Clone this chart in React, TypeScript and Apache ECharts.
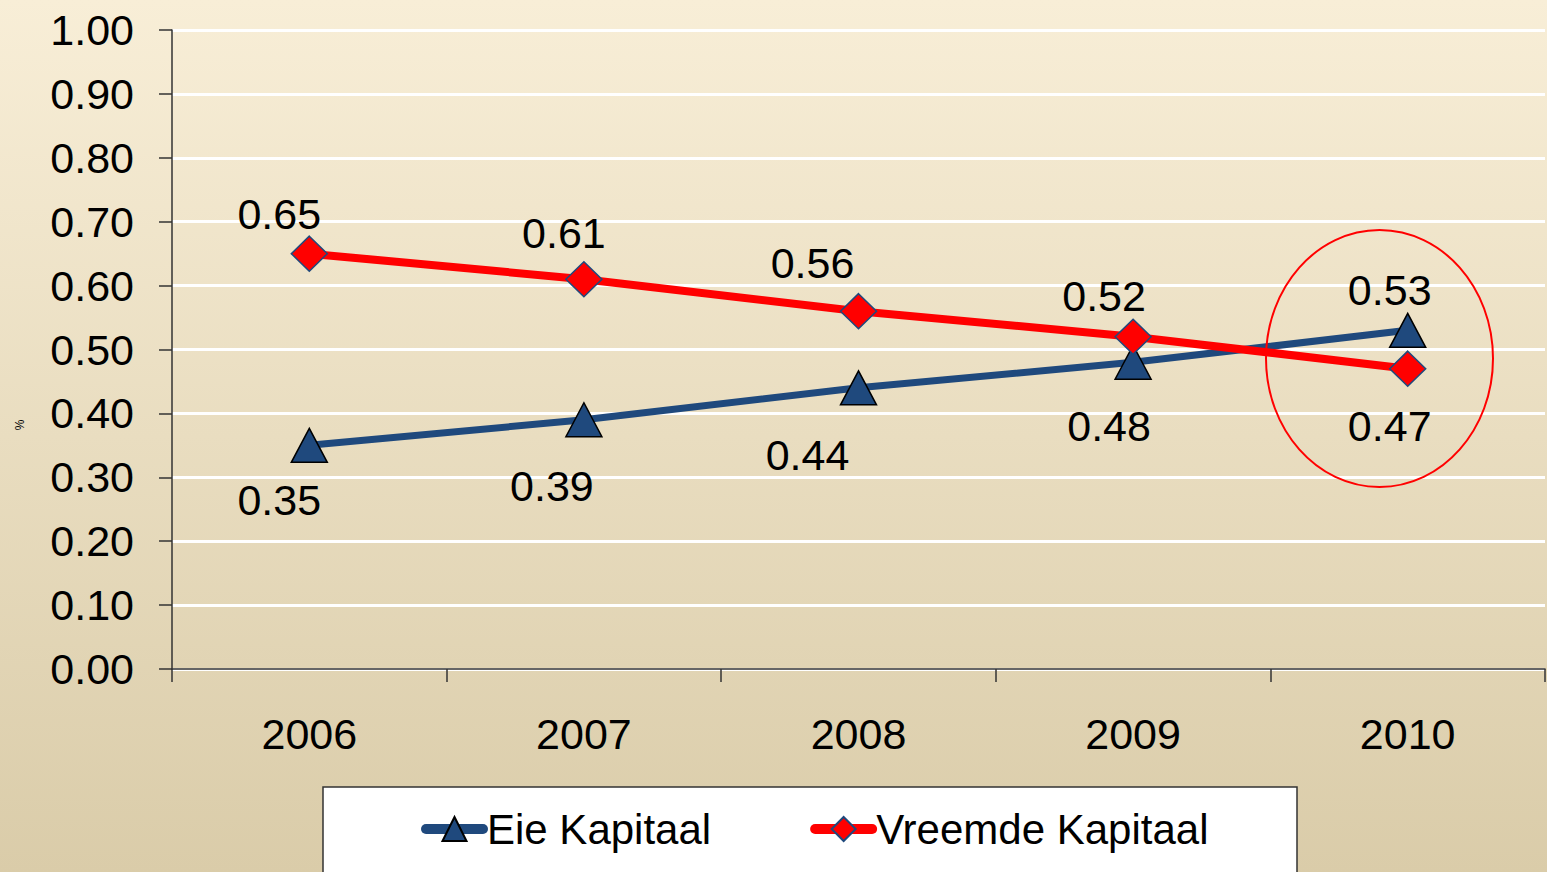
import React, { useEffect, useRef } from "react";
import * as echarts from "echarts";

const years = ["2006", "2007", "2008", "2009", "2010"];
const eieKapitaal = [0.35, 0.39, 0.44, 0.48, 0.53];
const vreemdeKapitaal = [0.65, 0.61, 0.56, 0.52, 0.47];
const yTicks = { min: 0, max: 1, interval: 0.1 };

// label placement (styling only)
const eieLabelOffset = [[-30, 55], [-32, 66], [-51, 67], [-24, 64], [-18, -40]];
const vreemdeLabelOffset = [[-30, -40], [-20, -46], [-46, -48], [-29, -41], [-18, 57]];

const FONT = "'Liberation Sans', Arial, sans-serif";
const FS = 43;

export default function App() {
  const ref = useRef<HTMLDivElement>(null);
  useEffect(() => {
    if (!ref.current) return;
    const chart = echarts.init(ref.current, undefined, { renderer: "svg" });
    const labelBase = {
      show: true,
      position: "inside",
      fontSize: FS,
      fontFamily: FONT,
      color: "#000",
      formatter: (p: any) => Number(p.value).toFixed(2),
    };
    chart.setOption({
      animation: false,
      backgroundColor: {
        type: "linear", x: 0, y: 0, x2: 0, y2: 1,
        colorStops: [
          { offset: 0, color: "#F8EED7" },
          { offset: 1, color: "#DACCA9" },
        ],
      },
      textStyle: { fontFamily: FONT },
      grid: { left: 172, right: 2, top: 30, bottom: 203, containLabel: false },
      xAxis: {
        type: "category",
        data: years,
        boundaryGap: true,
        axisLine: { lineStyle: { color: "#333", width: 1.5 } },
        axisTick: { show: true, length: 13, lineStyle: { color: "#333", width: 1.5 } },
        axisLabel: { fontSize: FS, color: "#000", margin: 43, fontFamily: FONT },
        splitLine: { show: false },
      },
      yAxis: {
        type: "value",
        min: yTicks.min,
        max: yTicks.max,
        interval: yTicks.interval,
        axisLine: { show: true, lineStyle: { color: "#333", width: 1.5 } },
        axisTick: { show: true, length: 13, lineStyle: { color: "#333", width: 1.5 } },
        axisLabel: {
          fontSize: FS, color: "#000", margin: 38, fontFamily: FONT,
          formatter: (v: number) => v.toFixed(2),
        },
        splitLine: { show: true, lineStyle: { color: "#FFFFFF", width: 3 } },
      },
      legend: {
        left: 421,
        top: 808,
        padding: 0,
        itemWidth: 57,
        itemHeight: 30,
        itemGap: 99,
        lineStyle: { width: 10, cap: "round" },
        textStyle: { fontSize: 42, color: "#000", fontFamily: FONT, padding: [0, 0, 0, -1] },
        data: ["Eie Kapitaal", "Vreemde Kapitaal"],
        z: 20,
      },
      graphic: [
        {
          type: "rect",
          shape: { x: 323, y: 787, width: 974, height: 100 },
          style: { fill: "#FFFFFF", stroke: "#333333", lineWidth: 1.5 },
          z: 5,
        },
        {
          type: "ellipse",
          shape: { cx: 1379.5, cy: 358.5, rx: 113.5, ry: 128.5 },
          style: { fill: "none", stroke: "#FF0000", lineWidth: 2 },
          z: 10,
        },
        {
          type: "text",
          x: 20,
          y: 425,
          rotation: Math.PI / 2,
          style: {
            text: "%",
            fontSize: 12,
            fontFamily: FONT,
            fill: "#000",
            align: "center",
            verticalAlign: "middle",
          },
          z: 10,
        },
      ],
      series: [
        {
          name: "Eie Kapitaal",
          type: "line",
          data: eieKapitaal.map((v, i) => ({ value: v, label: { offset: eieLabelOffset[i] } })),
          symbol: "triangle",
          symbolSize: [36, 34],
          lineStyle: { color: "#1F497D", width: 7, cap: "round" },
          itemStyle: { color: "#1F497D", borderColor: "#000", borderWidth: 1.5 },
          label: labelBase,
          z: 3,
        },
        {
          name: "Vreemde Kapitaal",
          type: "line",
          data: vreemdeKapitaal.map((v, i) => ({ value: v, label: { offset: vreemdeLabelOffset[i] } })),
          symbol: "diamond",
          symbolSize: [36, 35],
          lineStyle: { color: "#FF0000", width: 8, cap: "round" },
          itemStyle: { color: "#FF0000", borderColor: "#1F497D", borderWidth: 1.5 },
          label: labelBase,
          z: 4,
        },
      ],
    });
    return () => chart.dispose();
  }, []);
  return (
    <div
      ref={ref}
      style={{ position: "fixed", left: 0, top: 0, width: 1547, height: 872 }}
    />
  );
}
